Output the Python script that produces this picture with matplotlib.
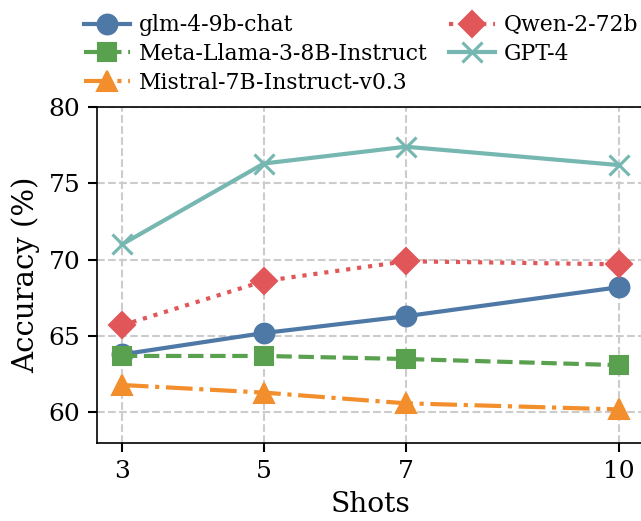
import matplotlib.pyplot as plt

shots = [3, 5, 7, 10]

glm = [63.8, 65.2, 66.3, 68.2]
llama = [63.7, 63.7, 63.5, 63.1]
mistral = [61.8, 61.3, 60.6, 60.2]
qwen = [65.7, 68.6, 69.9, 69.7]
gpt4 = [71.0, 76.3, 77.4, 76.2]

plt.rcParams["font.family"] = "DejaVu Serif"

fig = plt.figure(figsize=(641 / 150, 521 / 150), dpi=150)
ax = fig.add_axes([0.1513, 0.1497, 0.8527, 0.6449])

ax.plot(shots, glm, color="#4e79a7", linestyle="-", marker="o",
        linewidth=2, markersize=9.5, label="glm-4-9b-chat")
ax.plot(shots, llama, color="#59a14f", linestyle="--", marker="s",
        linewidth=2, markersize=9, label="Meta-Llama-3-8B-Instruct")
ax.plot(shots, mistral, color="#f28e2b", linestyle="-.", marker="^",
        linewidth=2, markersize=10, label="Mistral-7B-Instruct-v0.3")
ax.plot(shots, qwen, color="#e15759", linestyle=":", marker="D",
        linewidth=2, markersize=9, label="Qwen-2-72b")
ax.plot(shots, gpt4, color="#76b7b2", linestyle="-", marker="x",
        linewidth=2, markersize=10, markeredgewidth=1.5, label="GPT-4")

ax.set_xticks(shots)
ax.set_yticks([60, 65, 70, 75, 80])
ax.set_xlim(2.65, 10.35)
ax.set_ylim(58, 80)
ax.tick_params(labelsize=12, length=4.5, width=1)
ax.grid(True, linestyle="--", color="#cccccc", linewidth=1)
ax.set_axisbelow(True)

ax.set_xlabel("Shots", fontsize=13.5)
ax.set_ylabel("Accuracy (%)", fontsize=14)

fig.legend(loc="upper left", bbox_to_anchor=(0.10, 1.01), ncol=2,
           frameon=False, fontsize=10.5, handlelength=2.1,
           columnspacing=1.0, handletextpad=0.4, labelspacing=0.3)

fig.savefig("out.png", dpi=150)
